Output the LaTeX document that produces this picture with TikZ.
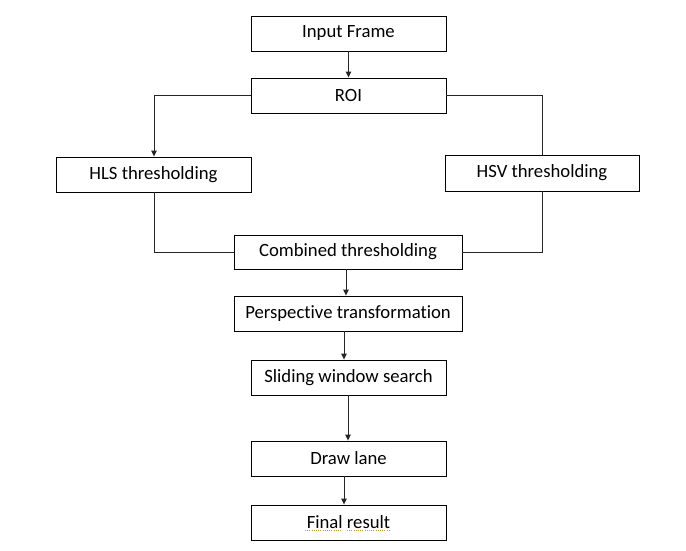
\documentclass[tikz,border=0pt]{standalone}
\usepackage{fontspec}
\setmainfont{Carlito}[Ligatures={NoCommon,NoRequired,NoContextual}]
\usetikzlibrary{arrows.meta}
\definecolor{spell}{RGB}{205,150,40}
\begin{document}
\begin{tikzpicture}[x=1pt,y=-1pt,
  box/.style={draw=black,line width=0.9pt,fill=white,minimum height=35pt,inner sep=0pt,font=\fontsize{18.7}{20}\selectfont},
  link/.style={draw=black!85,line width=0.9pt},
  arr/.style={link,-{Triangle[length=6pt,width=5.5pt]}}]
\useasboundingbox (0,0) rectangle (686,550);
\node[box,minimum width=195pt] (inp) at (348.5,33.5) {Input Frame};
\node[box,minimum width=195pt] (roi) at (348.5,95.5) {ROI};
\node[box,minimum width=195pt] (hls) at (153.5,174.5) {HLS thresholding};
\node[box,minimum width=194pt,minimum height=36pt] (hsv) at (542,173) {HSV thresholding};
\node[box,minimum width=228pt,minimum height=34pt] (comb) at (348,252) {Combined thresholding};
\node[box,minimum width=228pt] (persp) at (348,313.5) {Perspective transformation};
\node[box,minimum width=195pt] (slide) at (348.5,377.5) {Sliding window search};
\node[box,minimum width=195pt] (lane) at (348.5,458.5) {Draw lane};
\node[box,minimum width=195pt] (final) at (348.5,522.5) {Final result};
% spell-check underline
\coordinate (u1) at ([xshift=-43.5pt,yshift=-8pt]final.center);
\coordinate (u2) at ([xshift=-6.5pt,yshift=-8pt]final.center);
\coordinate (u3) at ([xshift=-1.5pt,yshift=-8pt]final.center);
\coordinate (u4) at ([xshift=41.5pt,yshift=-8pt]final.center);
\draw[spell,line width=1.2pt,dash pattern=on 1pt off 1.2pt] (u1) -- (u2);
\draw[spell,line width=1.2pt,dash pattern=on 1pt off 1.2pt] (u3) -- (u4);
% connectors
\draw[arr] (inp.south) -- (roi.north);
\draw[arr] (roi.west) -| ([xshift=0.5pt]hls.north);
\draw[link] (roi.east) -| ([xshift=0pt]hsv.north);
\draw[link] ([xshift=0.5pt]hls.south) |- (comb.west);
\draw[link] (hsv.south) |- (comb.east);
\draw[arr] ([xshift=-2pt]comb.south) -- ([xshift=-2pt]persp.north);
\draw[arr] ([xshift=-4pt]persp.south) -- ([xshift=-4.5pt]slide.north);
\draw[arr] ([xshift=-0.5pt]slide.south) -- ([xshift=-0.5pt]lane.north);
\draw[arr] ([xshift=-4.5pt]lane.south) -- ([xshift=-4.5pt]final.north);
\end{tikzpicture}
\end{document}
